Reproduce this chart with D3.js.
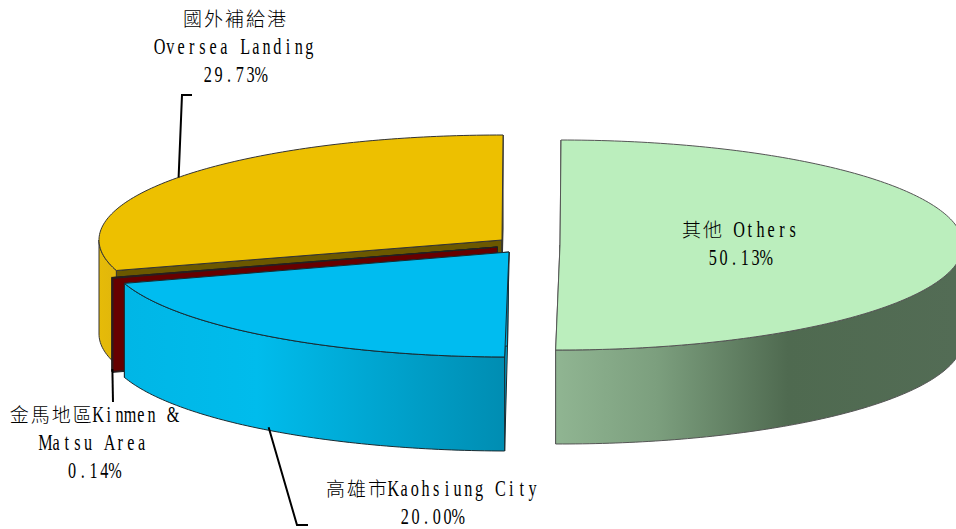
<!DOCTYPE html>
<html>
<head>
<meta charset="utf-8">
<script src="https://cdn.jsdelivr.net/npm/d3@7"></script>
<style>
html, body { margin: 0; padding: 0; background: #fff; overflow: hidden; }
svg { display: block; }
text { white-space: pre; }
</style>
</head>
<body>
<svg width="956" height="529"></svg>
<script>
// slice values, clockwise from 12 o'clock
var categories = ["Others", "Kaohsiung", "Kinmen", "Oversea"];
var shares = [50.13, 20.00, 0.14, 29.73];
var labelLines = [
    ["其他 Others", "50.13%"],
    ["高雄市Kaohsiung City", "20.00%"],
    ["金馬地區Kinmen &", "Matsu Area", "0.14%"],
    ["國外補給港", "Oversea Landing", "29.73%"]
];

var topColors = ["#bbeebd", "#00bcf0", "#660000", "#edc000"];
var cutColors = ["#8fb491", "#00a6d4", "#660000", "#6b5800"];
var strokes = ["#555", "#1a2a30", "#222", "#333"];

// where each exploded slice's apex ended up
var apexes = [[560, 245], [509, 252], [497.5, 247], [502, 240]];
var rx = 403, ry = 105, depth = 94;
var startDeg = 0.15;
var apexLean = 1.5; // bottom apex leans in a little, the original has some perspective

// label centres (x, first baseline)
var labelPos = [[739.5, 237], [431.5, 496], [93.5, 422], [234.5, 26]];
var lineGap = 28;

// leader elbows drawn from the rim at mid angle
var leaderBends = [null, [[297, 525], [308, 525]], [[113, 402]], [[182, 95], [192, 95]]];

var svg = d3.select("svg");
var defs = svg.append("defs");

function wallGradient(id, x1, x2, stops) {
    var g = defs.append("linearGradient").attr("id", id)
        .attr("gradientUnits", "userSpaceOnUse")
        .attr("x1", x1).attr("x2", x2).attr("y1", 0).attr("y2", 0);
    stops.forEach(function(s) {
        g.append("stop").attr("offset", s[0]).attr("stop-color", s[1]);
    });
}
wallGradient("wall0", 556, 956, [[0, "#90b592"], [0.25, "#7c9f7e"], [0.58, "#4f6a50"], [1, "#536c55"]]);
wallGradient("wall1", 124, 505, [[0, "#00b6e6"], [0.35, "#00bcec"], [1, "#008db2"]]);
wallGradient("wall2", 113, 124, [[0, "#660000"], [1, "#660000"]]);
wallGradient("wall3", 99, 117, [[0, "#e6bb08"], [1, "#e0b60c"]]);

var pie = d3.pie().sort(null)
    .startAngle(startDeg * Math.PI / 180)
    .endAngle((360 + startDeg) * Math.PI / 180);
var arcs = pie(shares);

var line = d3.line();

function rim(i, a, dy) {
    return [apexes[i][0] + rx * Math.sin(a), apexes[i][1] - ry * Math.cos(a) + (dy || 0)];
}

function arcPoints(i, a0, a1, dy) {
    var n = Math.max(2, Math.ceil(Math.abs(a1 - a0) * 60));
    return d3.range(n + 1).map(function(k) {
        return rim(i, a0 + (a1 - a0) * k / n, dy);
    });
}

var g = svg.append("g").attr("stroke-linejoin", "round");

// paint order: right slice first, then the back slice, the thin one, the front one
var order = [0, 3, 2, 1];

order.forEach(function(i) {
    var d = arcs[i];
    var apex = apexes[i];
    var slice = g.append("g").attr("class", "slice " + categories[i]);

    // cut faces
    [d.startAngle, d.endAngle].forEach(function(a) {
        var r0 = rim(i, a), r1 = rim(i, a, depth);
        slice.append("path")
            .attr("d", line([apex, r0, r1, [apex[0] - apexLean, apex[1] + depth]]) + "Z")
            .attr("fill", cutColors[i])
            .attr("stroke", strokes[i])
            .attr("stroke-width", 1);
    });

    // outer wall, front half only
    var a0 = Math.max(d.startAngle, Math.PI / 2), a1 = Math.min(d.endAngle, 1.5 * Math.PI);
    if (a1 > a0) {
        var pts = arcPoints(i, a0, a1, 0).concat(arcPoints(i, a1, a0, depth));
        slice.append("path")
            .attr("d", line(pts) + "Z")
            .attr("fill", "url(#wall" + i + ")")
            .attr("stroke", strokes[i])
            .attr("stroke-width", 1);
    }

    // top face
    slice.append("path")
        .attr("d", line([apex].concat(arcPoints(i, d.startAngle, d.endAngle, 0))) + "Z")
        .attr("fill", topColors[i])
        .attr("stroke", strokes[i])
        .attr("stroke-width", 1);
});

// leaders
arcs.forEach(function(d, i) {
    if (!leaderBends[i]) return;
    var mid = (d.startAngle + d.endAngle) / 2;
    var front = Math.cos(mid) < 0;
    var start = rim(i, mid, front ? depth - 3 : 0);
    svg.append("path")
        .attr("d", line([start].concat(leaderBends[i])))
        .attr("fill", "none")
        .attr("stroke", "#000")
        .attr("stroke-width", 2);
});

// labels sit on a fixed grid like the bitmap font of the original:
// full width cells for CJK, half width cells with squeezed serif for latin
var cjkCell = 21, latinCell = 10.7, latinSqueeze = 0.72;
var labels = svg.append("g").attr("fill", "#000");

labelLines.forEach(function(lines, i) {
    lines.forEach(function(str, k) {
        var y = labelPos[i][1] + k * lineGap;
        var runs = str.match(/[\u3000-\u9fff]+|[^\u3000-\u9fff]+/g);
        var total = d3.sum(runs, function(run) {
            return run.length * (/[\u3000-\u9fff]/.test(run) ? cjkCell : latinCell);
        });
        var x = labelPos[i][0] - total / 2;
        runs.forEach(function(run) {
            var cjk = /[\u3000-\u9fff]/.test(run);
            var cell = cjk ? cjkCell : latinCell;
            var sx = cjk ? 1 : latinSqueeze;
            var xs = d3.range(run.length).map(function(c) { return (c + 0.5) * cell / sx; });
            labels.append("text")
                .attr("transform", "translate(" + x + "," + y + ") scale(" + sx + ",1)")
                .attr("x", xs.join(" "))
                .attr("text-anchor", "middle")
                .attr("font-family", cjk ? "'Noto Sans CJK TC'" : "'Liberation Serif'")
                .attr("font-size", cjk ? 19 : 22.5)
                .attr("font-weight", cjk ? 300 : 400)
                .text(run);
            x += run.length * cell;
        });
    });
});
</script>
</body>
</html>
